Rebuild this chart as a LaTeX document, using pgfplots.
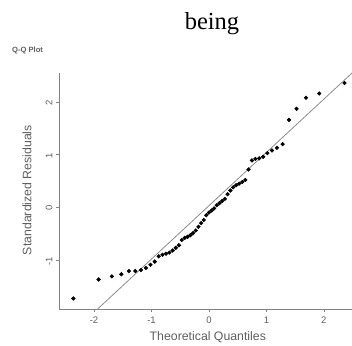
\documentclass[border=0pt]{standalone}
\usepackage{pgfplots}
\pgfplotsset{compat=1.18}
\usepackage{fontspec}
\setmainfont{Liberation Sans}
\newfontfamily\seriffont{Liberation Serif}
\definecolor{axgray}{RGB}{130,130,130}
\definecolor{labgray}{RGB}{95,95,95}
\definecolor{linegray}{RGB}{140,140,140}
\begin{document}
\begin{tikzpicture}[x=1pt,y=1pt]
\useasboundingbox (0,0) rectangle (352,345);
\node[anchor=base, font=\seriffont\fontsize{24.5}{26}\selectfont] at (212,315) {being};
\node[anchor=west, font=\bfseries\fontsize{7.6}{8}\selectfont, text=labgray, inner sep=0pt] at (12,295) {Q-Q Plot};
\begin{axis}[
  at={(59pt,36pt)}, anchor=south west,
  scale only axis, width=293pt, height=236pt,
  xmin=-2.61, xmax=2.49, ymin=-1.93, ymax=2.55,
  axis lines=left,
  axis line style={draw=axgray, line width=0.9pt, -},
  xtick={-2,-1,0,1,2}, ytick={-1,0,1,2},
  tick align=outside, major tick length=3pt,
  tick style={draw=axgray, line width=0.7pt},
  /pgf/number format/assume math mode=true,
  ticklabel style={font=\fontsize{9.5}{10}\selectfont, text=labgray},
  yticklabel style={rotate=90, anchor=south, xshift=-1pt},
  xticklabel style={yshift=-1pt},
  xlabel={Theoretical Quantiles},
  ylabel={Standardized Residuals},
  label style={font=\fontsize{12.3}{13}\selectfont, text=labgray},
  xlabel style={at={(axis description cs:0.508,-0.119)}, anchor=center},
  ylabel style={at={(axis description cs:-0.109,0.504)}, anchor=center},
  clip=true,
]
\addplot[linegray, line width=0.8pt] coordinates {(-2.61,-2.61) (2.49,2.55)};
\addplot[only marks, mark=*, mark size=1.9pt, black] coordinates {
(-2.36,-1.73) (-1.92,-1.37) (-1.69,-1.31) (-1.525,-1.27) (-1.393,-1.21)
(-1.282,-1.21) (-1.184,-1.19) (-1.097,-1.15) (-1.017,-1.09) (-0.943,-1.03)
(-0.874,-0.93) (-0.809,-0.90) (-0.748,-0.88) (-0.689,-0.86) (-0.632,-0.82)
(-0.578,-0.77) (-0.524,-0.72) (-0.473,-0.62) (-0.422,-0.58) (-0.373,-0.56)
(-0.324,-0.53) (-0.277,-0.49) (-0.230,-0.44) (-0.183,-0.37) (-0.137,-0.30)
(-0.091,-0.24) (-0.046,-0.15) (0,-0.10) (0.046,-0.06) (0.091,-0.02)
(0.137,0.04) (0.183,0.08) (0.230,0.12) (0.277,0.16) (0.324,0.25)
(0.373,0.32) (0.422,0.38) (0.473,0.42) (0.524,0.45) (0.578,0.48)
(0.632,0.52) (0.689,0.72) (0.748,0.89) (0.809,0.92) (0.874,0.93)
(0.943,0.96) (1.017,1.03) (1.097,1.08) (1.184,1.13) (1.282,1.20)
(1.393,1.66) (1.525,1.87) (1.69,2.08) (1.92,2.16) (2.36,2.36)
};
\end{axis}
\end{tikzpicture}
\end{document}
